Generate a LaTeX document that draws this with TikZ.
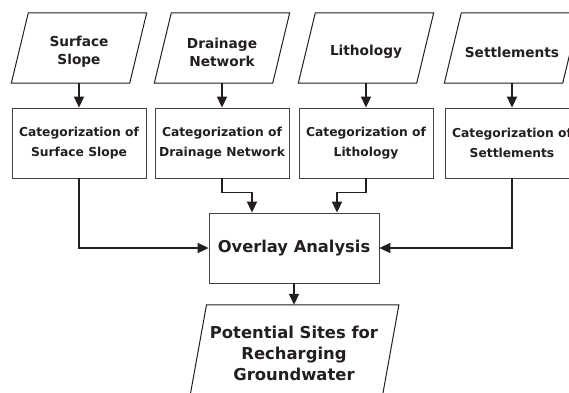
\documentclass[tikz,border=0pt]{standalone}
\usepackage{fontspec}
\setmainfont{DejaVu Sans}
\usetikzlibrary{arrows.meta}
\definecolor{ink}{HTML}{231F20}
\tikzset{
  para/.style={draw=ink, line width=1pt, line join=miter},
  pshape/.style={minimum width=118pt, minimum height=70pt, inner sep=0pt},
  toptxt/.style={font=\bfseries\fontsize{13.7}{18}\selectfont, text=ink, align=center, inner sep=0pt},
  catbox/.style={draw=ink!85, line width=0.8pt, minimum width=134pt, minimum height=70pt, inner sep=0pt,
    align=center, text=ink, font=\bfseries\fontsize{12.3}{20}\selectfont},
  ovbox/.style={draw=ink!85, line width=0.8pt, minimum width=170pt, minimum height=70pt, inner sep=0pt,
    align=center, text=ink, font=\bfseries\fontsize{16.3}{21}\selectfont},
  potshape/.style={minimum width=192pt, minimum height=96pt, inner sep=0pt,
    align=center, text=ink, font=\bfseries\fontsize{16.4}{21}\selectfont},
  conn/.style={draw=ink, line width=1.6pt, line join=miter, -{Triangle[length=11pt,width=10pt]}},
}
\begin{document}
\begin{tikzpicture}[x=1pt,y=-1pt]
\useasboundingbox (0,0) rectangle (569,392);
\fill[white] (0,0) rectangle (569,392);
\clip (0,0) rectangle (569,392);

% input parallelograms
\node[pshape] (in1) at (79,48) {};
\node[pshape] (in2) at (222,48) {};
\node[pshape] (in3) at (366,48) {};
\node[pshape] (in4) at (512,48) {};
\foreach \n in {in1,in2,in3,in4}{
  \draw[para] ([xshift=-8.5pt]\n.south west) -- ([xshift=8.5pt]\n.north west)
    -- ([xshift=8.5pt]\n.north east) -- ([xshift=-8.5pt]\n.south east) -- cycle;
}
\node[toptxt] (in1t) at ([yshift=-4pt]in1.center) {Surface\\Slope};
\node[toptxt] (in2t) at ([yshift=-4pt]in2.center) {Drainage\\Network};
\node[toptxt] (in3t) at ([yshift=-4pt]in3.center) {Lithology};
\node[toptxt] (in4t) at ([yshift=-4pt]in4.center) {Settlements};

% categorization boxes
\node[catbox] (c1) at (79,143) {Categorization of\\Surface Slope};
\node[catbox] (c2) at (222,143) {Categorization of\\Drainage Network};
\node[catbox] (c3) at (366,143) {Categorization of\\Lithology};
\node[catbox] (c4) at (512,143) {Categorization of\\Settlements};

% overlay
\node[ovbox] (ov) at (294,248) {Overlay Analysis};

% output
\node[potshape] (pot) at (294,353) {Potential Sites for\\Recharging\\Groundwater};
\draw[para] ([xshift=-8.7pt]pot.south west) -- ([xshift=8.7pt]pot.north west)
  -- ([xshift=8.7pt]pot.north east) -- ([xshift=-8.7pt]pot.south east) -- cycle;

% connectors
\draw[conn] (in1.south) -- (c1.north);
\draw[conn] (in2.south) -- (c2.north);
\draw[conn] (in3.south) -- (c3.north);
\draw[conn] (in4.south) -- (c4.north);
\draw[conn] (c1.south) |- (ov.west);
\draw[conn] (c4.south) |- (ov.east);
\draw[conn] (c2.south) -- ++(0,14) -| ([xshift=-42pt]ov.north);
\draw[conn] (c3.south) -- ++(0,14) -| ([xshift=43pt]ov.north);
\draw[conn] (ov.south) -- (pot.north);
\end{tikzpicture}
\end{document}
